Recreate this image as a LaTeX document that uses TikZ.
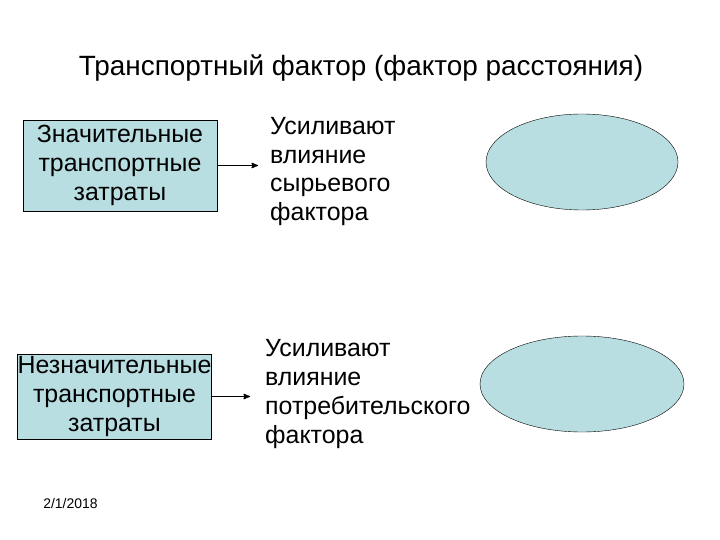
\documentclass[tikz,border=0pt]{standalone}
\usepackage{fontspec}
\setmainfont{Liberation Sans}
\usetikzlibrary{arrows,shapes.geometric}
\tikzset{>=stealth'}
\definecolor{paleblue}{HTML}{B8DEE2}
\tikzset{
  costbox/.style={draw,fill=paleblue,minimum width=194bp,inner sep=0pt,align=center,
    font=\fontsize{25}{29}\selectfont},
  effect/.style={anchor=west,align=left,inner sep=0pt,font=\fontsize{25}{29}\selectfont},
  blob/.style={ellipse,draw,fill=paleblue,inner sep=0pt,minimum height=96bp},
  link/.style={->,line width=1.3pt}
}

\begin{document}
\begin{tikzpicture}[x=1bp,y=-1bp]
\useasboundingbox (0,0) rectangle (720,540);
\node[font=\fontsize{28}{32}\selectfont] (title) at (361,68) {Транспортный фактор (фактор расстояния)};
% high costs
\node[costbox,minimum height=91bp] (big) at (120,165.5) {Значительные\\транспортные\\затраты};
\node[effect] (raw) at (270,171.5) {Усиливают\\влияние\\сырьевого\\фактора};
\node[blob,minimum width=192bp] (rawblob) at (582,162) {};
\draw[link,shorten >=12bp] (big.east) -- (raw.west|-big.east);
% low costs
\node[costbox,minimum height=85bp] (small) at (114.5,396.5) {Незначительные\\транспортные\\затраты};
\node[effect] (cons) at (265,394) {Усиливают\\влияние\\потребительского\\фактора};
\node[blob,minimum width=204bp] (consblob) at (582,384) {};
\draw[link,shorten >=15bp] (small.east) -- (cons.west|-small.east);
\node[font=\fontsize{14}{16}\selectfont] (date) at (70.5,504) {2/1/2018};
\end{tikzpicture}
\end{document}
